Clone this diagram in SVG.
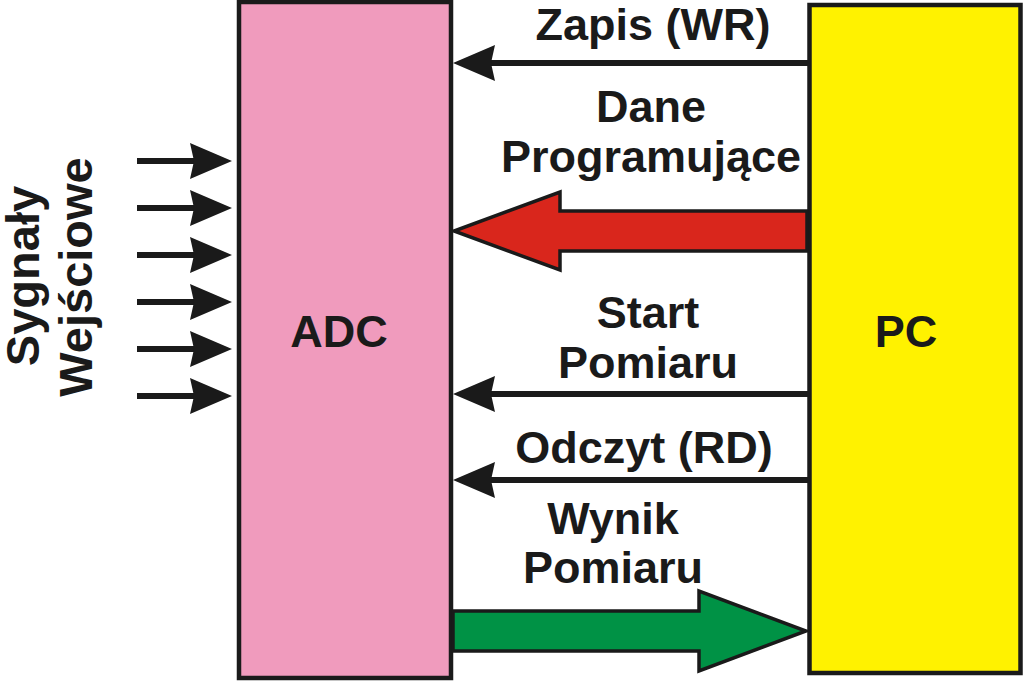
<svg xmlns="http://www.w3.org/2000/svg" width="1023" height="681" viewBox="0 0 1023 681">
<style>
.box{stroke:#1a1a1a;stroke-width:4.5}
.t{font-family:"Liberation Sans",Arial,sans-serif;font-weight:bold;font-size:45px;fill:#1a1a1a;text-anchor:middle}
.r{font-size:47px}
.ln{stroke:#1a1a1a;stroke-width:6;fill:none}
.hd{fill:#1a1a1a}
.big{stroke:#1a1a1a;stroke-width:3.5;stroke-linejoin:miter}
</style>
<defs>
<path id="hl" d="M0,0 L42,-18 L38,0 L42,18 Z"/>
<path id="hr" d="M0,0 L-42,-18 L-38,0 L-42,18 Z"/>
</defs>
<rect width="1023" height="681" fill="#ffffff"/>
<g id="adc">
<rect class="box" x="239" y="2" width="212" height="676" fill="#F09BBD"/>
<text class="t" x="339" y="347">ADC</text>
</g>
<g id="pc">
<rect class="box" x="809.500" y="5" width="211" height="668" fill="#FFF200"/>
<text class="t" x="906" y="347">PC</text>
</g>
<g id="inputs-label">
<text class="t r" transform="translate(39,276) rotate(-90)">Sygnały</text>
<text class="t r" transform="translate(92,277) rotate(-90)">Wejściowe</text>
</g>
<g id="connectors">
<g id="inputs">
<line class="ln" x1="137" y1="161" x2="200" y2="161"/><use href="#hr" class="hd" x="232" y="161"/>
<line class="ln" x1="137" y1="208" x2="200" y2="208"/><use href="#hr" class="hd" x="232" y="208"/>
<line class="ln" x1="137" y1="255" x2="200" y2="255"/><use href="#hr" class="hd" x="232" y="255"/>
<line class="ln" x1="137" y1="302" x2="200" y2="302"/><use href="#hr" class="hd" x="232" y="302"/>
<line class="ln" x1="137" y1="349" x2="200" y2="349"/><use href="#hr" class="hd" x="232" y="349"/>
<line class="ln" x1="137" y1="396" x2="200" y2="396"/><use href="#hr" class="hd" x="232" y="396"/>
</g>
<g id="zapis">
<line class="ln" x1="808" y1="63" x2="485" y2="63"/><use href="#hl" class="hd" x="453" y="63"/>
</g>
<g id="dane">
<path class="big" fill="#D9261C" d="M807,211 L560,211 L560,192 L454,231 L560,270 L560,251 L807,251 Z"/>
</g>
<g id="start">
<line class="ln" x1="808" y1="394" x2="485" y2="394"/><use href="#hl" class="hd" x="453" y="394"/>
</g>
<g id="odczyt">
<line class="ln" x1="808" y1="480" x2="485" y2="480"/><use href="#hl" class="hd" x="453" y="480"/>
</g>
<g id="wynik">
<path class="big" fill="#009245" d="M453,611 L699,611 L699,591 L806,631 L699,671 L699,651 L453,651 Z"/>
</g>
</g>
<g id="labels">
<text class="t" x="653" y="40">Zapis (WR)</text>
<text class="t" x="651" y="122">Dane</text>
<text class="t" x="651" y="172">Programujące</text>
<text class="t" x="648" y="328">Start</text>
<text class="t" x="648" y="378">Pomiaru</text>
<text class="t" x="644" y="463">Odczyt (RD)</text>
<text class="t" x="613" y="534">Wynik</text>
<text class="t" x="613" y="583">Pomiaru</text>
</g>
</svg>
